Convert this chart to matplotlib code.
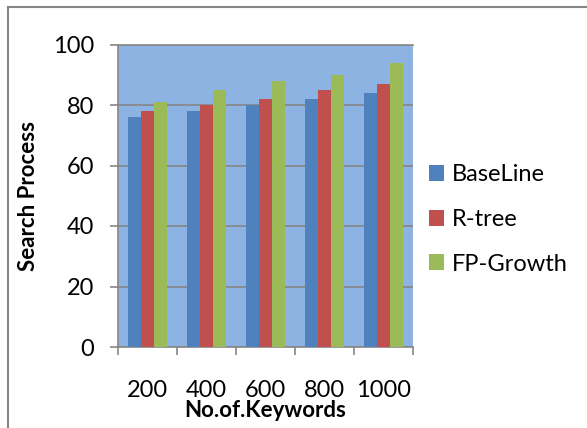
import numpy as np
import matplotlib
matplotlib.use("Agg")
import matplotlib.pyplot as plt
from matplotlib.lines import Line2D

# data
categories = ["200", "400", "600", "800", "1000"]
baseline = [76, 78, 80, 82, 84]
rtree = [78, 80, 82, 85, 87]
fpgrowth = [81, 85, 88, 90, 94]
series_names = ["BaseLine", "R-tree", "FP-Growth"]
colors = ["#4F81BD", "#C0504D", "#9BBB59"]

plt.rcParams['font.family'] = ['Lato', 'DejaVu Sans']

fig = plt.figure(figsize=(5.87, 4.28), dpi=100)
ax = fig.add_axes([118 / 587, 1 - 347 / 428, 295 / 587, 302.5 / 428])
ax.set_facecolor("#8DB3E2")

x = np.arange(len(categories))
w = 0.217
for i, (vals, name, c) in enumerate(zip([baseline, rtree, fpgrowth], series_names, colors)):
    ax.bar(x + (i - 1) * w, vals, width=w, color=c, label=name, zorder=3)

ax.set_xlim(-0.5, len(categories) - 0.5)
ax.set_ylim(0, 100)
ax.set_yticks(np.arange(0, 101, 20))
ax.yaxis.grid(True, color="#868686", linewidth=1.2, zorder=1)
ax.set_axisbelow(True)

# ticks at category boundaries, labels at centers
ax.set_xticks(np.arange(-0.5, len(categories), 1.0))
ax.set_xticklabels([])
ax.set_xticks(x, minor=True)
ax.set_xticklabels(categories, minor=True)
ax.tick_params(axis="x", which="major", length=6, width=1.2, color="#868686", direction="out")
ax.tick_params(axis="x", which="minor", length=0, pad=24, labelsize=17)
ax.tick_params(axis="y", length=6, width=1.2, color="#868686", pad=11, labelsize=17)

ax.spines["right"].set_visible(False)
for s in ["left", "bottom", "top"]:
    ax.spines[s].set_color("#868686")
    ax.spines[s].set_linewidth(1.2)

ax.set_ylabel("Search Process", fontsize=16, fontweight="bold", va="center")
ax.yaxis.set_label_coords(-0.305, 0.5)
ax.set_xlabel("No.of.Keywords", fontsize=16, fontweight="bold", va="center")
ax.xaxis.set_label_coords(0.5, -0.21)

fig.legend(loc="center left", bbox_to_anchor=(429 / 587, 1 - 219.5 / 428),
           frameon=False, fontsize=17, handlelength=0.65, handleheight=0.65,
           handletextpad=0.3, labelspacing=1.0, borderpad=0, borderaxespad=0)

# outer chart frame (only top and left visible in the crop)
fig.add_artist(Line2D([8 / 587, 1.0], [1 - 7 / 428, 1 - 7 / 428], color="#868686", linewidth=1.5))
fig.add_artist(Line2D([8 / 587, 8 / 587], [0.0, 1 - 7 / 428], color="#868686", linewidth=1.5))

fig.savefig("out.png", dpi=100)
